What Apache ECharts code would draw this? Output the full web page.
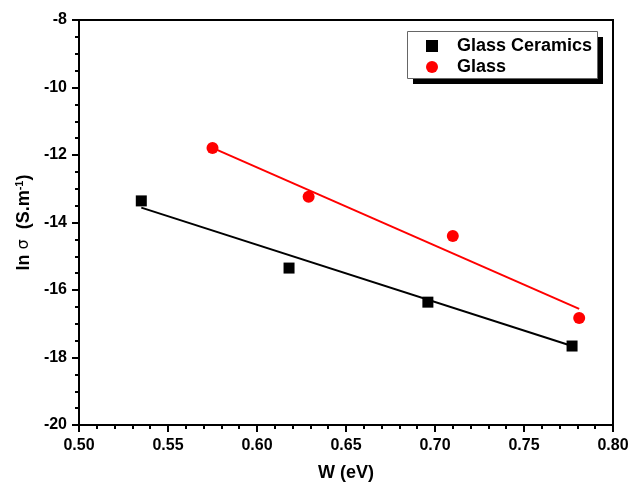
<!DOCTYPE html>
<html><head><meta charset="utf-8">
<script src="https://cdn.jsdelivr.net/npm/echarts@6/dist/echarts.min.js"></script>
<style>html,body{margin:0;padding:0;background:#fff}#c{width:629px;height:482px}</style>
</head><body><div id="c"></div>
<script>
// Data
const glassCeramicsW = [0.535, 0.618, 0.696, 0.777];
const glassCeramicsLnSigma = [-13.36, -15.35, -16.36, -17.66];
const glassW = [0.575, 0.629, 0.710, 0.781];
const glassLnSigma = [-11.79, -13.24, -14.40, -16.83];
// Linear fit line endpoints as drawn
const fitCeramicsW = [0.535, 0.777];
const fitCeramicsY = [-13.56, -17.66];
const fitGlassW = [0.575, 0.781];
const fitGlassY = [-11.79, -16.56];
const xTicks = [0.50, 0.55, 0.60, 0.65, 0.70, 0.75, 0.80];
const yTicks = [-20, -18, -16, -14, -12, -10, -8];

const zip = (a, b) => a.map((v, i) => [v, b[i]]);
const font = 'Liberation Sans, Arial, sans-serif';

const chart = echarts.init(document.getElementById('c'), null, {renderer: 'canvas'});
chart.setOption({
  animation: false,
  backgroundColor: '#fff',
  grid: {left: 79, right: 16, top: 20, bottom: 57, containLabel: false, outerBoundsMode: 'none',
    show: true, borderColor: '#000', borderWidth: 2},
  graphic: [
    {type: 'rect', z: 1, shape: {x: 413, y: 37, width: 190, height: 47}, style: {fill: '#000'}},
    {type: 'rect', z: 1, shape: {x: 407.5, y: 31.5, width: 190, height: 47}, style: {fill: '#fff', stroke: '#666', lineWidth: 1}}
  ],
  xAxis: {
    type: 'value', min: xTicks[0], max: xTicks[xTicks.length - 1], interval: 0.05,
    name: 'W (eV)', nameLocation: 'middle', nameGap: 39,
    nameTextStyle: {fontFamily: font, fontWeight: 'bold', fontSize: 18, color: '#000'},
    axisLine: {lineStyle: {color: '#000', width: 2}},
    axisTick: {inside: false, length: 7, lineStyle: {color: '#000', width: 2}},
    minorTick: {show: true, splitNumber: 5, length: 4, lineStyle: {color: '#000', width: 2}},
    axisLabel: {margin: 13, fontFamily: font, fontWeight: 'bold', fontSize: 16, color: '#000',
      formatter: v => v.toFixed(2)},
    splitLine: {show: false}
  },
  yAxis: {
    type: 'value', min: yTicks[0], max: yTicks[yTicks.length - 1], interval: 2,
    name: '{t|ln }{s|σ}{t|  (S.m}{sup|-1}{t|)}', nameLocation: 'middle', nameGap: 42, nameRotate: 90,
    nameTextStyle: {
      rich: {
        t: {fontFamily: font, fontWeight: 'bold', fontSize: 18, color: '#000'},
        s: {fontFamily: 'DejaVu Sans, sans-serif', fontSize: 16, color: '#000'},
        sup: {fontFamily: font, fontWeight: 'bold', fontSize: 11, color: '#000', verticalAlign: 'top', padding: [0, 0, 9, 0]}
      }
    },
    axisLine: {lineStyle: {color: '#000', width: 2}},
    axisTick: {inside: false, length: 7, lineStyle: {color: '#000', width: 2}},
    minorTick: {show: true, splitNumber: 4, length: 4, lineStyle: {color: '#000', width: 2}},
    axisLabel: {margin: 12, fontFamily: font, fontWeight: 'bold', fontSize: 16, color: '#000'},
    splitLine: {show: false}
  },
  legend: {
    orient: 'vertical', left: 407, top: 32, z: 5,
    data: ['Glass Ceramics', 'Glass'],
    itemWidth: 12, itemHeight: 12, itemGap: 3,
    padding: [5, 4, 3, 19],
    backgroundColor: 'transparent', borderWidth: 0,
    textStyle: {fontFamily: font, fontWeight: 'bold', fontSize: 18, lineHeight: 18, color: '#000', padding: [0, 0, 0, 14]}
  },
  series: [
    {name: 'Glass Ceramics', type: 'scatter', symbol: 'rect', symbolSize: 11,
      itemStyle: {color: '#000', opacity: 1}, data: zip(glassCeramicsW, glassCeramicsLnSigma), z: 3},
    {name: 'Glass', type: 'scatter', symbol: 'circle', symbolSize: 12,
      itemStyle: {color: '#ff0000', opacity: 1}, data: zip(glassW, glassLnSigma), z: 3},
    {name: 'fitC', type: 'line', showSymbol: false, symbol: 'none', lineStyle: {color: '#000', width: 2},
      data: zip(fitCeramicsW, fitCeramicsY), z: 2},
    {name: 'fitG', type: 'line', showSymbol: false, symbol: 'none', lineStyle: {color: '#ff0000', width: 2},
      data: zip(fitGlassW, fitGlassY), z: 2}
  ]
});
</script></body></html>
